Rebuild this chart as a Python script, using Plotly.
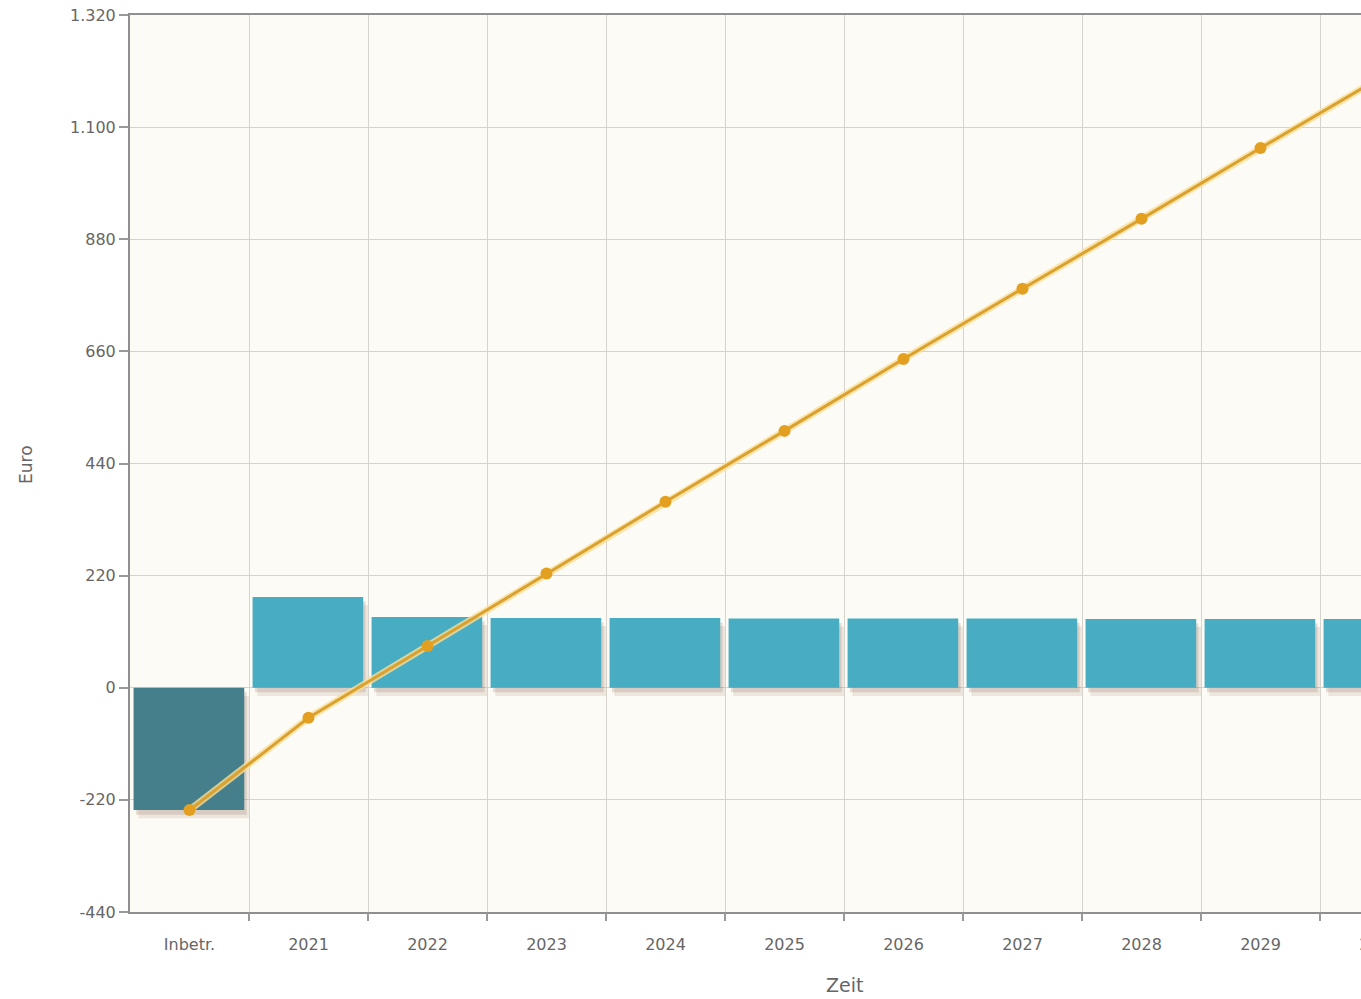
import plotly.graph_objects as go

categories = ["Inbetr.", "2021", "2022", "2023", "2024", "2025", "2026", "2027", "2028", "2029", "2030"]
bar_values = [-240, 178, 139, 137, 137, 136, 136, 136, 135, 135, 135]
line_values = [-240, -59, 82, 224, 365, 504, 645, 783, 920, 1059, 1196]
y_ticks = [-440, -220, 0, 220, 440, 660, 880, 1100, 1320]
y_tick_labels = ["-440", "-220", "0", "220", "440", "660", "880", "1.100", "1.320"]

bar_colors = ["#457f8b"] + ["#48adc2"] * (len(categories) - 1)
x_idx = list(range(len(categories)))

W, H = 1460, 999
ML, MR, MT, MB = 130, 21, 15, 87

fig = go.Figure()

# invisible trace to activate the boundary axis (gridlines & tick marks at category edges)
fig.add_trace(go.Scatter(x=[0], y=[0], xaxis="x2", mode="markers",
                         marker=dict(opacity=0), hoverinfo="skip", showlegend=False))

# soft drop shadows under bars
fig.add_trace(go.Bar(
    x=x_idx, y=bar_values, base=[-16] * len(bar_values),
    width=0.93, offset=-0.43,
    marker=dict(color="rgba(120,85,60,0.12)", line=dict(width=0)),
    hoverinfo="skip", showlegend=False,
))
fig.add_trace(go.Bar(
    x=x_idx, y=bar_values, base=[-9] * len(bar_values),
    width=0.93, offset=-0.45,
    marker=dict(color="rgba(120,85,60,0.18)", line=dict(width=0)),
    hoverinfo="skip", showlegend=False,
))
fig.add_trace(go.Bar(
    x=x_idx, y=bar_values, width=0.93, offset=-0.47,
    marker=dict(color=bar_colors, line=dict(width=0)),
    showlegend=False, name="Cashflow",
))
# line halo
fig.add_trace(go.Scatter(
    x=x_idx, y=line_values, mode="lines",
    line=dict(color="rgba(250,222,150,0.8)", width=7),
    hoverinfo="skip", showlegend=False,
))
fig.add_trace(go.Scatter(
    x=x_idx, y=line_values, mode="lines+markers",
    line=dict(color="#dba12f", width=3),
    marker=dict(color="#e3a020", size=12, line=dict(width=0)),
    showlegend=False, name="Kumuliert",
))

font_family = "DejaVu Sans, sans-serif"
txt = "#666666"

fig.update_layout(
    width=W, height=H,
    margin=dict(l=ML, r=MR, t=MT, b=MB, autoexpand=False),
    paper_bgcolor="white",
    plot_bgcolor="#fdfbf5",
    barmode="overlay",
    font=dict(family=font_family, color=txt, size=16),
    xaxis=dict(
        range=[-0.5, len(categories) - 0.5], automargin=False,
        tickmode="array", tickvals=x_idx, ticktext=categories,
        showgrid=False, zeroline=False,
        showline=True, linecolor="#8f8f8f", linewidth=2, mirror=True,
        ticks="", ticklabelstandoff=17, tickfont=dict(size=16, color=txt),
    ),
    xaxis2=dict(
        overlaying="x", range=[-0.5, len(categories) - 0.5], automargin=False,
        tickmode="array", tickvals=[i + 0.5 for i in x_idx], ticktext=[""] * len(x_idx),
        showgrid=True, gridcolor="#d6d3cc", gridwidth=1,
        ticks="outside", ticklen=8, tickcolor="#999999", tickwidth=1.5, showline=False,
        zeroline=False, side="bottom",
    ),
    yaxis=dict(
        range=[-440, 1320], tickvals=y_ticks, ticktext=y_tick_labels, automargin=False,
        showgrid=True, gridcolor="#d6d3cc", gridwidth=1,
        zeroline=False, showline=True, linecolor="#8f8f8f", linewidth=2,
        ticks="outside", ticklen=9, tickcolor="#999999", tickwidth=1.5,
        tickfont=dict(size=16, color=txt),
    ),
    annotations=[
        dict(
            text="Zeit", xref="paper", yref="paper",
            x=(845 - ML) / (W - ML - MR), y=0,
            yshift=-(985 - (H - MB)), showarrow=False, xanchor="center", yanchor="middle",
            font=dict(size=19, color=txt, family=font_family),
        ),
        dict(
            text="Euro", xref="paper", yref="paper", textangle=-90,
            x=0, y=(999 - MB - 465) / (H - MT - MB),
            xshift=-(ML - 26), showarrow=False, xanchor="center", yanchor="middle",
            font=dict(size=17, color=txt, family=font_family),
        ),
    ],
)

fig.write_html("out.html", post_script="document.body.style.margin='0';document.body.style.overflow='hidden';")
